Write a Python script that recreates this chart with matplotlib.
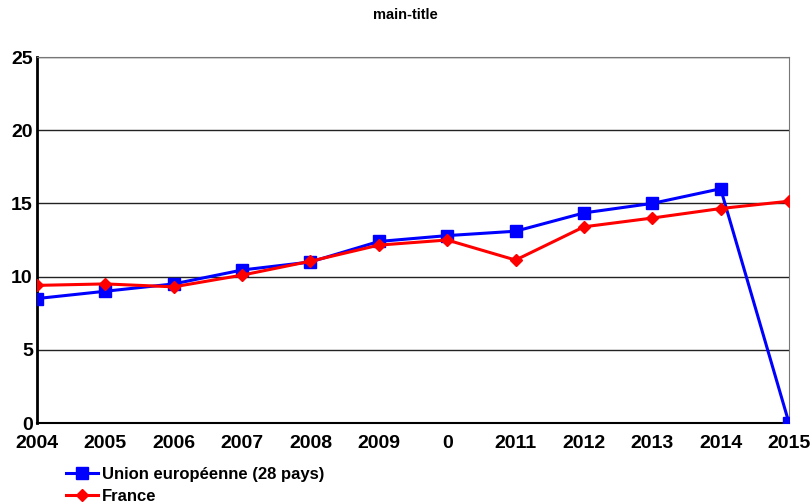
import matplotlib.pyplot as plt
import numpy as np

plt.rcParams['font.family'] = ['Liberation Sans', 'DejaVu Sans']

years = ['2004', '2005', '2006', '2007', '2008', '2009', '0',
         '2011', '2012', '2013', '2014', '2015']
ue28 = [8.5, 9.0, 9.5, 10.45, 11.0, 12.4, 12.8, 13.1, 14.35, 15.0, 16.0, 0.0]
france = [9.4, 9.5, 9.3, 10.1, 11.05, 12.15, 12.5, 11.13, 13.4, 14.0, 14.65, 15.15]

x = np.arange(len(years))

fig = plt.figure(figsize=(8.11, 5.03), dpi=100)
ax = fig.add_axes([37 / 811, 80 / 503, 752 / 811, 366 / 503])

ax.plot(x, ue28, color='#0000ff', lw=2.2, marker='s', ms=8,
        label='Union européenne (28 pays)', zorder=3)
ax.plot(x, france, color='#ff0000', lw=2.2, marker='D', ms=6.5,
        label='France', zorder=4)

ax.set_xlim(0, len(years) - 1)
ax.set_ylim(0, 25)
ax.set_yticks([0, 5, 10, 15, 20, 25])
ax.set_xticks(x)
ax.set_xticklabels(years)
ax.tick_params(length=0, labelsize=14)
ax.tick_params(axis='x', pad=9)
ax.tick_params(axis='y', pad=3)
for lbl in ax.get_xticklabels() + ax.get_yticklabels():
    lbl.set_fontweight('bold')

ax.yaxis.grid(True, color='#222222', lw=1)
ax.set_axisbelow(True)
ax.spines['left'].set_color('black')
ax.spines['left'].set_linewidth(2)
ax.spines['bottom'].set_color('black')
ax.spines['bottom'].set_linewidth(1.5)
ax.spines['top'].set_color('#777777')
ax.spines['right'].set_color('#777777')

fig.text(0.5, 0.97, 'main-title', ha='center', va='center',
         fontsize=10.5, fontweight='bold')

fig.legend(loc='upper left', bbox_to_anchor=(66 / 811, 36 / 503),
           frameon=False, prop={'size': 12, 'weight': 'bold'},
           handlelength=1.9, handletextpad=0.25, labelspacing=0.4,
           borderaxespad=0, borderpad=0)

fig.savefig('out.png', dpi=100)
